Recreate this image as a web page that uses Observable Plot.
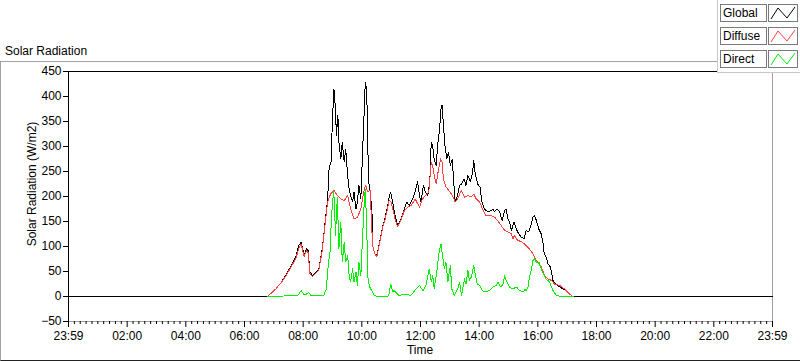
<!DOCTYPE html>
<html>
<head>
<meta charset="utf-8">
<script src="https://cdn.jsdelivr.net/npm/d3@7"></script>
<script src="https://cdn.jsdelivr.net/npm/@observablehq/plot@0.6"></script>
<style>
  html, body { margin: 0; padding: 0; background: #fff; }
  #wrap { position: relative; width: 800px; height: 361px; overflow: hidden;
          font-family: "Liberation Sans", Arial, sans-serif; font-size: 12px; color: #000; }
  #chart { position: absolute; left: 0; top: 0; }
  .abs { position: absolute; white-space: nowrap; line-height: 14px; }
  #panel { position: absolute; left: 0; top: 61px; width: 799px; height: 298px;
           border-top: 1px solid #a0a0a0; border-left: 1px solid #a0a0a0; border-bottom: 1px solid #222; }
  #legend { position: absolute; left: 717px; top: 0; width: 83px; height: 72px; background: #fff;
            border-left: 1px solid #c8c8c8; border-bottom: 1px solid #c8c8c8; }
  .lbl { position: absolute; left: 2px; width: 43px; height: 16px; border: 1px solid #7a7a7a;
         background: #fff; line-height: 16px; padding-left: 2px; box-sizing: content-box; }
  .smp { position: absolute; left: 50px; width: 28px; height: 16px; border: 1px solid #7a7a7a; background: #fff; }
</style>
</head>
<body>
<div id="wrap">
  <div id="chart"></div>
  <div id="panel"></div>
  <div class="abs" style="left:5px;top:44px;">Solar Radiation</div>
  <div class="abs" style="left:32px;top:184px;transform:translate(-50%,-50%) rotate(-90deg);">Solar Radiation (W/m2)</div>
  <div class="abs" style="left:420px;top:350px;transform:translate(-50%,-50%);">Time</div>
  <div id="legend"></div>
</div>
<script>
// ---- data ----
const seriesNames = ["Global", "Diffuse", "Direct"];
const seriesColors = ["#000000", "#ff4040", "#00f000"];

const yTicks = [-50, 0, 50, 100, 150, 200, 250, 300, 350, 400, 450];
const xMajorTicks = [0, 2, 4, 6, 8, 10, 12, 14, 16, 18, 20, 22, 24];
const xTickLabels = ["23:59", "02:00", "04:00", "06:00", "08:00", "10:00", "12:00",
                     "14:00", "16:00", "18:00", "20:00", "22:00", "23:59"];

const globalTimes = ["00:00","06:47","07:04","07:15","07:24","07:34","07:45","07:51","07:56","08:02","08:07","08:10","08:14","08:19","08:26","08:32","08:39","08:45","08:50","08:53","08:57","09:00","09:03","09:06","09:08","09:11","09:13","09:17","09:20","09:24","09:27","09:31","09:34","09:37","09:41","09:44","09:48","09:51","09:54","09:58","10:01","10:05","10:07","10:10","10:12","10:14","10:16","10:18","10:21","10:23","10:27","10:31","10:35","10:43","10:47","10:53","10:56","10:59","11:03","11:08","11:13","11:20","11:27","11:32","11:37","11:44","11:49","11:54","11:58","12:01","12:06","12:10","12:15","12:19","12:22","12:25","12:28","12:32","12:35","12:39","12:42","12:44","12:47","12:50","12:54","12:57","13:01","13:05","13:08","13:11","13:14","13:20","13:24","13:29","13:33","13:37","13:42","13:46","13:49","13:52","13:57","14:02","14:05","14:08","14:11","14:18","14:25","14:28","14:31","14:37","14:42","14:47","14:52","14:55","14:59","15:02","15:06","15:11","15:16","15:21","15:26","15:32","15:36","15:41","15:47","15:50","15:53","15:57","16:02","16:07","16:11","16:13","16:17","16:21","16:26","16:31","16:38","16:45","16:52","16:58","17:05","17:12","24:00"];
const globalValues = [0,0,15,28,42,59,79,102,109,82,95,92,49,42,49,55,95,149,195,255,270,356,415,376,322,362,309,275,309,269,295,242,215,202,189,209,175,189,222,195,275,375,429,415,309,229,215,202,162,95,85,82,102,142,155,182,199,209,189,162,142,155,175,189,182,195,209,229,202,189,222,209,202,229,309,299,275,262,302,335,375,382,342,302,275,289,262,275,229,189,195,222,225,235,222,242,229,245,272,245,225,218,192,182,175,169,172,175,169,175,169,152,172,175,155,149,132,149,135,125,119,115,132,129,145,159,162,152,135,125,105,85,79,65,59,32,24,19,15,12,5,0,0];

const diffuseTimes = ["06:47","07:04","07:15","07:24","07:34","07:45","07:51","07:56","08:02","08:07","08:10","08:14","08:19","08:26","08:32","08:39","08:45","08:50","08:56","09:00","09:03","09:10","09:17","09:24","09:31","09:37","09:44","09:51","09:58","10:05","10:08","10:12","10:17","10:22","10:27","10:31","10:35","10:43","10:47","10:53","10:56","11:00","11:08","11:13","11:20","11:27","11:34","11:41","11:49","11:58","12:04","12:10","12:17","12:22","12:25","12:28","12:32","12:36","12:41","12:44","12:47","12:52","12:58","13:05","13:11","13:16","13:23","13:30","13:37","13:44","13:49","13:54","14:01","14:08","14:14","14:25","14:31","14:38","14:45","14:52","14:59","15:06","15:09","15:12","15:19","15:26","15:33","15:38","15:43","15:50","15:55","16:00","16:07","16:14","16:21","16:28","16:34","16:45","16:55","17:05","17:12"];
const diffuseValues = [0,15,28,40,57,76,96,105,80,92,88,46,40,47,53,92,146,189,205,209,212,202,195,192,202,175,155,158,175,215,222,209,212,102,84,80,100,140,152,178,192,189,155,140,152,172,179,182,195,179,195,202,209,269,262,242,225,249,275,269,235,219,212,202,189,195,212,199,202,199,205,195,189,172,162,162,159,152,142,132,129,125,115,122,112,110,105,100,95,85,75,69,59,42,35,32,25,22,15,5,0];

const directTimes = ["06:47","07:20","07:50","07:56","08:02","08:07","08:11","08:16","08:30","08:42","08:47","08:52","08:55","08:58","09:02","09:04","09:06","09:10","09:13","09:17","09:20","09:24","09:27","09:31","09:34","09:37","09:41","09:44","09:48","09:51","09:54","09:58","10:01","10:05","10:07","10:10","10:12","10:15","10:18","10:22","10:25","10:32","10:53","10:56","10:59","11:03","11:06","11:16","11:27","11:40","11:51","11:58","12:05","12:11","12:18","12:22","12:25","12:28","12:34","12:38","12:42","12:45","12:49","12:52","12:56","13:01","13:04","13:09","13:16","13:20","13:24","13:27","13:30","13:33","13:37","13:40","13:44","13:49","13:52","13:56","14:01","14:06","14:14","14:21","14:28","14:35","14:38","14:44","14:49","14:52","14:55","15:02","15:09","15:16","15:23","15:30","15:34","15:36","15:40","15:43","15:47","15:50","15:53","15:57","16:02","16:07","16:13","16:17","16:24","16:31","16:38","16:48","17:02","17:12"];
const directValues = [0,1,3,12,3,5,8,2,1,2,14,69,89,162,209,189,122,199,95,149,69,109,69,82,42,29,55,29,49,22,69,42,109,189,215,142,42,22,15,9,2,0,0,6,25,9,12,2,5,2,15,22,12,22,55,29,42,15,55,89,105,82,55,69,29,62,15,2,15,29,2,19,35,25,52,32,39,62,45,25,22,12,9,12,19,22,29,19,25,42,32,19,15,19,12,9,15,12,19,39,55,72,75,69,69,55,42,35,29,12,2,0,1,0];

// ---- build tables ----
const toH = s => { const [h, m] = s.split(":").map(Number); return h + m / 60; };
const mk = (times, values) => times.map((t, i) => ({x: toH(t), y: values[i]}));
const series = [mk(globalTimes, globalValues), mk(diffuseTimes, diffuseValues), mk(directTimes, directValues)];
const xMinorTicks = d3.range(0, 24.001, 0.2).filter(v => Math.abs(v / 2 - Math.round(v / 2)) > 1e-6);

const chart = Plot.plot({
  width: 800,
  height: 361,
  marginLeft: 68,
  marginRight: 28,
  marginTop: 71,
  marginBottom: 40,
  style: {background: "transparent", fontFamily: "'Liberation Sans', Arial, sans-serif", fontSize: "12px", color: "#000", overflow: "visible"},
  x: {domain: [0, 24]},
  y: {domain: [-50, 450]},
  marks: [
    Plot.frame({stroke: "#a0a0a0"}),
    Plot.ruleY([450], {stroke: "#000"}),
    Plot.ruleX([0], {stroke: "#000"}),
    Plot.axisY({ticks: yTicks, tickSize: 5, tickPadding: 2, label: null}),
    Plot.axisX({ticks: xMajorTicks, tickSize: 6, tickPadding: 4, label: null,
                tickFormat: d => xTickLabels[xMajorTicks.indexOf(d)]}),
    Plot.axisX({ticks: xMinorTicks, tickSize: 3, label: null, tickFormat: () => ""}),
    ...series.map((data, i) => Plot.line(data, {x: "x", y: "y", stroke: seriesColors[i], strokeWidth: 1, shapeRendering: "crispEdges"}))
  ]
});
document.getElementById("chart").appendChild(chart);

// ---- legend ----
const legend = document.getElementById("legend");
seriesNames.forEach((name, i) => {
  const top = 4 + i * 23;
  const lbl = document.createElement("div");
  lbl.className = "lbl";
  lbl.style.top = top + "px";
  lbl.textContent = name;
  legend.appendChild(lbl);
  const smp = document.createElement("div");
  smp.className = "smp";
  smp.style.top = top + "px";
  smp.innerHTML = `<svg width="28" height="16"><polyline points="2,14 9,3 18,13 26,2" fill="none" stroke="${seriesColors[i]}" stroke-width="1"/></svg>`;
  legend.appendChild(smp);
});
</script>
</body>
</html>
